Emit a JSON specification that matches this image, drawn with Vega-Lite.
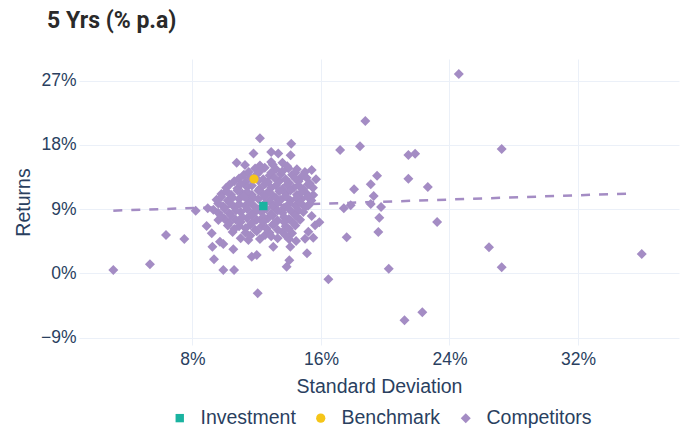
{
  "$schema": "https://vega.github.io/schema/vega-lite/v6.json",
  "width": 600,
  "height": 286,
  "autosize": {"type": "none"},
  "padding": {"left": 79, "top": 59, "right": 9, "bottom": 87},
  "background": "white",
  "title": {
    "text": "5 Yrs (% p.a)",
    "anchor": "start",
    "frame": "group",
    "font": "Roboto",
    "fontSize": 23,
    "fontWeight": "bold",
    "color": "#2a2a2a",
    "dx": -32,
    "offset": 26
  },
  "config": {
    "view": {"stroke": null},
    "font": "Liberation Sans",
    "axis": {
      "grid": true,
      "gridColor": "#ebf0f8",
      "gridWidth": 1,
      "domain": false,
      "ticks": false,
      "labelFont": "Liberation Sans",
      "labelFontSize": 17.5,
      "labelColor": "#2a3f5f",
      "titleFont": "Liberation Sans",
      "titleFontSize": 19.5,
      "titleFontWeight": "normal",
      "titleColor": "#2a3f5f"
    }
  },
  "datasets": {
    "trend": [
      {"sd": 3.07, "ret": 8.78},
      {"sd": 35.5, "ret": 11.2}
    ],
    "points": [
      {"sd": 24.58, "ret": 27.94, "type": "Competitors"},
      {"sd": 18.76, "ret": 21.35, "type": "Competitors"},
      {"sd": 18.43, "ret": 17.8, "type": "Competitors"},
      {"sd": 17.19, "ret": 17.29, "type": "Competitors"},
      {"sd": 27.25, "ret": 17.43, "type": "Competitors"},
      {"sd": 21.44, "ret": 16.58, "type": "Competitors"},
      {"sd": 21.86, "ret": 16.77, "type": "Competitors"},
      {"sd": 21.44, "ret": 13.27, "type": "Competitors"},
      {"sd": 22.65, "ret": 12.1, "type": "Competitors"},
      {"sd": 19.49, "ret": 13.69, "type": "Competitors"},
      {"sd": 19.1, "ret": 12.5, "type": "Competitors"},
      {"sd": 18.06, "ret": 11.77, "type": "Competitors"},
      {"sd": 19.28, "ret": 10.84, "type": "Competitors"},
      {"sd": 17.42, "ret": 9.11, "type": "Competitors"},
      {"sd": 17.85, "ret": 9.53, "type": "Competitors"},
      {"sd": 19.1, "ret": 9.71, "type": "Competitors"},
      {"sd": 19.74, "ret": 9.3, "type": "Competitors"},
      {"sd": 19.63, "ret": 7.8, "type": "Competitors"},
      {"sd": 23.23, "ret": 7.19, "type": "Competitors"},
      {"sd": 19.57, "ret": 5.79, "type": "Competitors"},
      {"sd": 17.6, "ret": 5.05, "type": "Competitors"},
      {"sd": 26.46, "ret": 3.64, "type": "Competitors"},
      {"sd": 35.97, "ret": 2.7, "type": "Competitors"},
      {"sd": 27.25, "ret": 0.84, "type": "Competitors"},
      {"sd": 20.22, "ret": 0.65, "type": "Competitors"},
      {"sd": 16.46, "ret": -0.84, "type": "Competitors"},
      {"sd": 22.31, "ret": -5.47, "type": "Competitors"},
      {"sd": 21.2, "ret": -6.59, "type": "Competitors"},
      {"sd": 14.15, "ret": 18.17, "type": "Competitors"},
      {"sd": 14.11, "ret": 16.54, "type": "Competitors"},
      {"sd": 15.42, "ret": 14.48, "type": "Competitors"},
      {"sd": 15.69, "ret": 13.18, "type": "Competitors"},
      {"sd": 14.76, "ret": 13.46, "type": "Competitors"},
      {"sd": 13.97, "ret": 14.72, "type": "Competitors"},
      {"sd": 15.52, "ret": 10.98, "type": "Competitors"},
      {"sd": 15.19, "ret": 9.48, "type": "Competitors"},
      {"sd": 15.42, "ret": 8.03, "type": "Competitors"},
      {"sd": 15.9, "ret": 7.15, "type": "Competitors"},
      {"sd": 15.63, "ret": 6.73, "type": "Competitors"},
      {"sd": 15.52, "ret": 4.99, "type": "Competitors"},
      {"sd": 15.01, "ret": 4.85, "type": "Competitors"},
      {"sd": 14.45, "ret": 4.53, "type": "Competitors"},
      {"sd": 15.13, "ret": 2.8, "type": "Competitors"},
      {"sd": 14.03, "ret": 1.82, "type": "Competitors"},
      {"sd": 13.86, "ret": 0.93, "type": "Competitors"},
      {"sd": 14.09, "ret": 3.73, "type": "Competitors"},
      {"sd": 12.2, "ret": 18.93, "type": "Competitors"},
      {"sd": 10.75, "ret": 15.5, "type": "Competitors"},
      {"sd": 11.8, "ret": 16.8, "type": "Competitors"},
      {"sd": 13.34, "ret": 16.8, "type": "Competitors"},
      {"sd": 12.9, "ret": 17.0, "type": "Competitors"},
      {"sd": 11.27, "ret": 15.18, "type": "Competitors"},
      {"sd": 8.2, "ret": 8.78, "type": "Competitors"},
      {"sd": 8.95, "ret": 9.11, "type": "Competitors"},
      {"sd": 6.35, "ret": 5.37, "type": "Competitors"},
      {"sd": 7.49, "ret": 4.81, "type": "Competitors"},
      {"sd": 3.07, "ret": 0.46, "type": "Competitors"},
      {"sd": 5.35, "ret": 1.26, "type": "Competitors"},
      {"sd": 8.88, "ret": 6.63, "type": "Competitors"},
      {"sd": 9.24, "ret": 3.73, "type": "Competitors"},
      {"sd": 9.92, "ret": 4.1, "type": "Competitors"},
      {"sd": 10.54, "ret": 3.36, "type": "Competitors"},
      {"sd": 9.34, "ret": 1.96, "type": "Competitors"},
      {"sd": 11.69, "ret": 2.33, "type": "Competitors"},
      {"sd": 12.0, "ret": 2.56, "type": "Competitors"},
      {"sd": 9.92, "ret": 0.46, "type": "Competitors"},
      {"sd": 10.59, "ret": 0.46, "type": "Competitors"},
      {"sd": 12.06, "ret": -2.8, "type": "Competitors"},
      {"sd": 9.61, "ret": 7.47, "type": "Competitors"},
      {"sd": 9.2, "ret": 5.6, "type": "Competitors"},
      {"sd": 9.71, "ret": 4.43, "type": "Competitors"},
      {"sd": 11.48, "ret": 4.67, "type": "Competitors"},
      {"sd": 13.03, "ret": 3.73, "type": "Competitors"},
      {"sd": 12.52, "ret": 5.37, "type": "Competitors"},
      {"sd": 15.21, "ret": 5.83, "type": "Competitors"},
      {"sd": 12.9, "ret": 15.6, "type": "Competitors"},
      {"sd": 13.6, "ret": 15.5, "type": "Competitors"},
      {"sd": 11.9, "ret": 14.7, "type": "Competitors"},
      {"sd": 12.5, "ret": 14.8, "type": "Competitors"},
      {"sd": 13.2, "ret": 14.6, "type": "Competitors"},
      {"sd": 14.5, "ret": 14.6, "type": "Competitors"},
      {"sd": 11.2, "ret": 13.8, "type": "Competitors"},
      {"sd": 12.0, "ret": 13.9, "type": "Competitors"},
      {"sd": 12.8, "ret": 13.7, "type": "Competitors"},
      {"sd": 13.5, "ret": 13.9, "type": "Competitors"},
      {"sd": 14.2, "ret": 13.8, "type": "Competitors"},
      {"sd": 10.6, "ret": 12.9, "type": "Competitors"},
      {"sd": 11.3, "ret": 12.8, "type": "Competitors"},
      {"sd": 12.1, "ret": 13.0, "type": "Competitors"},
      {"sd": 12.7, "ret": 12.8, "type": "Competitors"},
      {"sd": 13.4, "ret": 12.9, "type": "Competitors"},
      {"sd": 14.0, "ret": 12.7, "type": "Competitors"},
      {"sd": 14.6, "ret": 12.9, "type": "Competitors"},
      {"sd": 15.3, "ret": 12.6, "type": "Competitors"},
      {"sd": 10.1, "ret": 12.0, "type": "Competitors"},
      {"sd": 10.8, "ret": 11.9, "type": "Competitors"},
      {"sd": 11.4, "ret": 12.1, "type": "Competitors"},
      {"sd": 12.2, "ret": 11.9, "type": "Competitors"},
      {"sd": 12.9, "ret": 12.0, "type": "Competitors"},
      {"sd": 13.6, "ret": 11.8, "type": "Competitors"},
      {"sd": 14.3, "ret": 12.0, "type": "Competitors"},
      {"sd": 14.9, "ret": 11.8, "type": "Competitors"},
      {"sd": 15.5, "ret": 12.0, "type": "Competitors"},
      {"sd": 9.8, "ret": 11.1, "type": "Competitors"},
      {"sd": 10.4, "ret": 11.0, "type": "Competitors"},
      {"sd": 11.1, "ret": 11.2, "type": "Competitors"},
      {"sd": 11.7, "ret": 11.0, "type": "Competitors"},
      {"sd": 12.4, "ret": 11.1, "type": "Competitors"},
      {"sd": 13.0, "ret": 10.9, "type": "Competitors"},
      {"sd": 13.8, "ret": 11.2, "type": "Competitors"},
      {"sd": 14.5, "ret": 11.0, "type": "Competitors"},
      {"sd": 15.1, "ret": 11.2, "type": "Competitors"},
      {"sd": 9.5, "ret": 10.3, "type": "Competitors"},
      {"sd": 10.2, "ret": 10.2, "type": "Competitors"},
      {"sd": 10.9, "ret": 10.4, "type": "Competitors"},
      {"sd": 11.5, "ret": 10.2, "type": "Competitors"},
      {"sd": 12.1, "ret": 10.4, "type": "Competitors"},
      {"sd": 12.8, "ret": 10.1, "type": "Competitors"},
      {"sd": 13.5, "ret": 10.3, "type": "Competitors"},
      {"sd": 14.1, "ret": 10.2, "type": "Competitors"},
      {"sd": 14.8, "ret": 10.4, "type": "Competitors"},
      {"sd": 15.4, "ret": 10.2, "type": "Competitors"},
      {"sd": 9.9, "ret": 9.4, "type": "Competitors"},
      {"sd": 10.6, "ret": 9.3, "type": "Competitors"},
      {"sd": 11.3, "ret": 9.5, "type": "Competitors"},
      {"sd": 11.9, "ret": 9.3, "type": "Competitors"},
      {"sd": 13.0, "ret": 9.4, "type": "Competitors"},
      {"sd": 13.7, "ret": 9.2, "type": "Competitors"},
      {"sd": 14.4, "ret": 9.5, "type": "Competitors"},
      {"sd": 15.0, "ret": 9.3, "type": "Competitors"},
      {"sd": 9.6, "ret": 8.5, "type": "Competitors"},
      {"sd": 10.3, "ret": 8.4, "type": "Competitors"},
      {"sd": 11.0, "ret": 8.6, "type": "Competitors"},
      {"sd": 11.7, "ret": 8.4, "type": "Competitors"},
      {"sd": 12.3, "ret": 8.6, "type": "Competitors"},
      {"sd": 12.9, "ret": 8.3, "type": "Competitors"},
      {"sd": 13.6, "ret": 8.5, "type": "Competitors"},
      {"sd": 14.3, "ret": 8.4, "type": "Competitors"},
      {"sd": 14.9, "ret": 8.6, "type": "Competitors"},
      {"sd": 10.0, "ret": 7.6, "type": "Competitors"},
      {"sd": 10.7, "ret": 7.5, "type": "Competitors"},
      {"sd": 11.4, "ret": 7.7, "type": "Competitors"},
      {"sd": 12.0, "ret": 7.5, "type": "Competitors"},
      {"sd": 12.7, "ret": 7.7, "type": "Competitors"},
      {"sd": 13.3, "ret": 7.4, "type": "Competitors"},
      {"sd": 14.0, "ret": 7.6, "type": "Competitors"},
      {"sd": 14.7, "ret": 7.5, "type": "Competitors"},
      {"sd": 10.2, "ret": 6.7, "type": "Competitors"},
      {"sd": 10.9, "ret": 6.6, "type": "Competitors"},
      {"sd": 11.6, "ret": 6.8, "type": "Competitors"},
      {"sd": 12.3, "ret": 6.6, "type": "Competitors"},
      {"sd": 13.0, "ret": 6.8, "type": "Competitors"},
      {"sd": 13.8, "ret": 6.6, "type": "Competitors"},
      {"sd": 14.4, "ret": 6.7, "type": "Competitors"},
      {"sd": 10.5, "ret": 5.8, "type": "Competitors"},
      {"sd": 11.3, "ret": 5.7, "type": "Competitors"},
      {"sd": 12.0, "ret": 5.9, "type": "Competitors"},
      {"sd": 12.8, "ret": 5.7, "type": "Competitors"},
      {"sd": 13.6, "ret": 5.8, "type": "Competitors"},
      {"sd": 14.2, "ret": 5.6, "type": "Competitors"},
      {"sd": 11.0, "ret": 4.9, "type": "Competitors"},
      {"sd": 12.2, "ret": 4.8, "type": "Competitors"},
      {"sd": 13.3, "ret": 4.9, "type": "Competitors"},
      {"sd": 14.0, "ret": 4.8, "type": "Competitors"},
      {"sd": 12.2, "ret": 15.1, "type": "Competitors"},
      {"sd": 13.0, "ret": 15.2, "type": "Competitors"},
      {"sd": 13.9, "ret": 15.0, "type": "Competitors"},
      {"sd": 11.5, "ret": 14.2, "type": "Competitors"},
      {"sd": 12.2, "ret": 14.3, "type": "Competitors"},
      {"sd": 12.9, "ret": 14.1, "type": "Competitors"},
      {"sd": 13.6, "ret": 14.3, "type": "Competitors"},
      {"sd": 14.4, "ret": 14.1, "type": "Competitors"},
      {"sd": 15.0, "ret": 14.2, "type": "Competitors"},
      {"sd": 10.9, "ret": 13.3, "type": "Competitors"},
      {"sd": 11.6, "ret": 13.4, "type": "Competitors"},
      {"sd": 12.4, "ret": 13.2, "type": "Competitors"},
      {"sd": 13.1, "ret": 13.4, "type": "Competitors"},
      {"sd": 13.8, "ret": 13.2, "type": "Competitors"},
      {"sd": 14.4, "ret": 13.3, "type": "Competitors"},
      {"sd": 15.1, "ret": 13.4, "type": "Competitors"},
      {"sd": 10.3, "ret": 12.4, "type": "Competitors"},
      {"sd": 11.0, "ret": 12.5, "type": "Competitors"},
      {"sd": 11.7, "ret": 12.3, "type": "Competitors"},
      {"sd": 12.5, "ret": 12.5, "type": "Competitors"},
      {"sd": 13.2, "ret": 12.3, "type": "Competitors"},
      {"sd": 13.9, "ret": 12.4, "type": "Competitors"},
      {"sd": 14.6, "ret": 12.3, "type": "Competitors"},
      {"sd": 15.2, "ret": 12.5, "type": "Competitors"},
      {"sd": 10.1, "ret": 11.5, "type": "Competitors"},
      {"sd": 10.8, "ret": 11.6, "type": "Competitors"},
      {"sd": 11.4, "ret": 11.4, "type": "Competitors"},
      {"sd": 12.1, "ret": 11.6, "type": "Competitors"},
      {"sd": 12.7, "ret": 11.4, "type": "Competitors"},
      {"sd": 13.4, "ret": 11.5, "type": "Competitors"},
      {"sd": 14.1, "ret": 11.6, "type": "Competitors"},
      {"sd": 14.8, "ret": 11.4, "type": "Competitors"},
      {"sd": 9.8, "ret": 10.7, "type": "Competitors"},
      {"sd": 10.5, "ret": 10.6, "type": "Competitors"},
      {"sd": 11.2, "ret": 10.8, "type": "Competitors"},
      {"sd": 11.8, "ret": 10.6, "type": "Competitors"},
      {"sd": 12.5, "ret": 10.7, "type": "Competitors"},
      {"sd": 13.2, "ret": 10.6, "type": "Competitors"},
      {"sd": 13.8, "ret": 10.8, "type": "Competitors"},
      {"sd": 14.5, "ret": 10.6, "type": "Competitors"},
      {"sd": 15.2, "ret": 10.7, "type": "Competitors"},
      {"sd": 9.6, "ret": 9.8, "type": "Competitors"},
      {"sd": 10.3, "ret": 9.9, "type": "Competitors"},
      {"sd": 10.9, "ret": 9.7, "type": "Competitors"},
      {"sd": 11.6, "ret": 9.9, "type": "Competitors"},
      {"sd": 12.5, "ret": 9.8, "type": "Competitors"},
      {"sd": 13.3, "ret": 9.9, "type": "Competitors"},
      {"sd": 14.0, "ret": 9.7, "type": "Competitors"},
      {"sd": 14.7, "ret": 9.9, "type": "Competitors"},
      {"sd": 15.3, "ret": 9.7, "type": "Competitors"},
      {"sd": 9.3, "ret": 8.9, "type": "Competitors"},
      {"sd": 10.0, "ret": 9.0, "type": "Competitors"},
      {"sd": 10.7, "ret": 8.8, "type": "Competitors"},
      {"sd": 11.4, "ret": 9.0, "type": "Competitors"},
      {"sd": 12.0, "ret": 8.8, "type": "Competitors"},
      {"sd": 12.6, "ret": 9.0, "type": "Competitors"},
      {"sd": 13.3, "ret": 8.8, "type": "Competitors"},
      {"sd": 14.0, "ret": 9.0, "type": "Competitors"},
      {"sd": 14.6, "ret": 8.8, "type": "Competitors"},
      {"sd": 9.8, "ret": 8.0, "type": "Competitors"},
      {"sd": 10.4, "ret": 8.1, "type": "Competitors"},
      {"sd": 11.1, "ret": 7.9, "type": "Competitors"},
      {"sd": 11.7, "ret": 8.1, "type": "Competitors"},
      {"sd": 12.4, "ret": 7.9, "type": "Competitors"},
      {"sd": 13.0, "ret": 8.1, "type": "Competitors"},
      {"sd": 13.7, "ret": 7.9, "type": "Competitors"},
      {"sd": 14.4, "ret": 8.1, "type": "Competitors"},
      {"sd": 10.3, "ret": 7.1, "type": "Competitors"},
      {"sd": 11.0, "ret": 7.2, "type": "Competitors"},
      {"sd": 11.7, "ret": 7.0, "type": "Competitors"},
      {"sd": 12.4, "ret": 7.2, "type": "Competitors"},
      {"sd": 13.1, "ret": 7.0, "type": "Competitors"},
      {"sd": 13.7, "ret": 7.2, "type": "Competitors"},
      {"sd": 14.3, "ret": 7.0, "type": "Competitors"},
      {"sd": 10.6, "ret": 6.2, "type": "Competitors"},
      {"sd": 11.3, "ret": 6.3, "type": "Competitors"},
      {"sd": 11.9, "ret": 6.1, "type": "Competitors"},
      {"sd": 12.6, "ret": 6.3, "type": "Competitors"},
      {"sd": 13.3, "ret": 6.1, "type": "Competitors"},
      {"sd": 14.0, "ret": 6.2, "type": "Competitors"},
      {"sd": 11.6, "ret": 5.3, "type": "Competitors"},
      {"sd": 12.9, "ret": 5.2, "type": "Competitors"},
      {"sd": 13.8, "ret": 5.3, "type": "Competitors"},
      {"sd": 12.41, "ret": 9.43, "type": "Investment"},
      {"sd": 11.83, "ret": 13.22, "type": "Benchmark"}
    ]
  },
  "layer": [
    {
      "data": {"name": "trend"},
      "mark": {"type": "line", "color": "#a48cc4", "strokeWidth": 2.5, "strokeDash": [9, 9]},
      "encoding": {
        "x": {"field": "sd", "type": "quantitative"},
        "y": {"field": "ret", "type": "quantitative"}
      }
    },
    {
      "data": {"name": "points"},
      "mark": {"type": "point", "filled": true, "opacity": 1},
      "encoding": {
        "x": {
          "field": "sd",
          "type": "quantitative",
          "scale": {"domain": [0.934, 38.29], "nice": false, "zero": false},
          "axis": {
            "title": "Standard Deviation",
            "values": [8, 16, 24, 32],
            "labelExpr": "datum.value + '%'",
            "labelPadding": 5,
            "titlePadding": 10
          }
        },
        "y": {
          "field": "ret",
          "type": "quantitative",
          "scale": {"domain": [-10.05, 30.04], "nice": false, "zero": false},
          "axis": {
            "title": "Returns",
            "values": [-9, 0, 9, 18, 27],
            "labelExpr": "replace(datum.value + '%', '-', '−')",
            "labelPadding": 3,
            "titlePadding": 7
          }
        },
        "color": {
          "field": "type",
          "type": "nominal",
          "scale": {
            "domain": ["Investment", "Benchmark", "Competitors"],
            "range": ["#1ab3a0", "#f5c518", "#a48cc4"]
          },
          "legend": {
            "title": null,
            "orient": "none",
            "direction": "horizontal",
            "legendX": 91,
            "legendY": 349,
            "labelFontSize": 19.5,
            "labelColor": "#2a3f5f",
            "labelFont": "Liberation Sans",
            "symbolSize": 100,
            "labelOffset": 11,
            "columnPadding": 15
          }
        },
        "shape": {
          "field": "type",
          "type": "nominal",
          "scale": {
            "domain": ["Investment", "Benchmark", "Competitors"],
            "range": ["square", "circle", "diamond"]
          },
          "legend": null
        },
        "size": {
          "field": "type",
          "type": "nominal",
          "scale": {
            "domain": ["Investment", "Benchmark", "Competitors"],
            "range": [70, 100, 200]
          },
          "legend": null
        }
      }
    }
  ]
}
